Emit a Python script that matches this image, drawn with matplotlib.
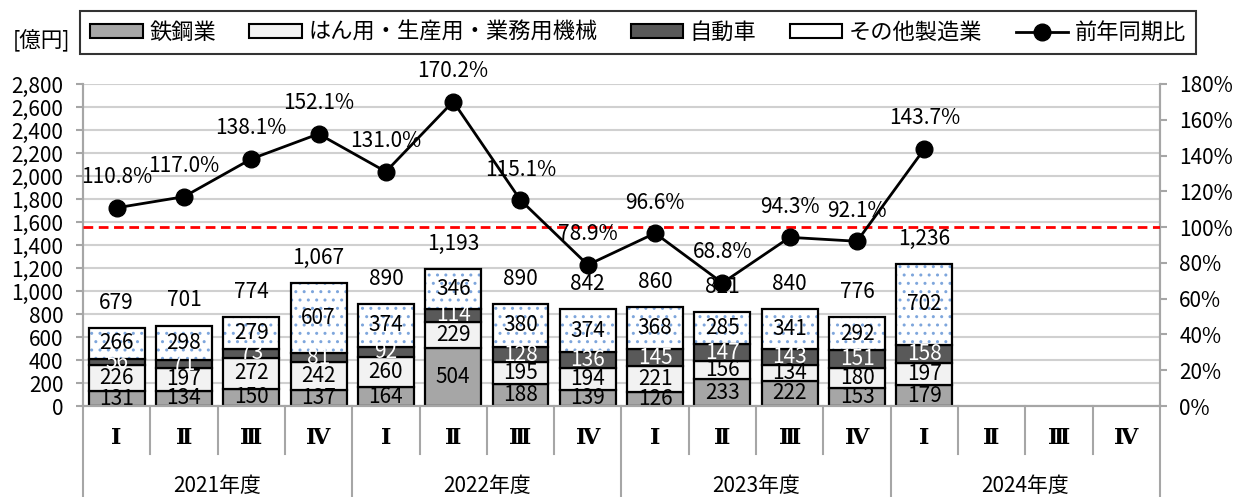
import matplotlib
matplotlib.use("Agg")
import matplotlib.pyplot as plt
import matplotlib.transforms as mtransforms
from matplotlib.patches import Patch
from matplotlib.lines import Line2D
import numpy as np

plt.rcParams['font.family'] = ['Noto Sans CJK JP', 'DejaVu Sans']

# data (億円)
quarters = ['Ⅰ', 'Ⅱ', 'Ⅲ', 'Ⅳ'] * 4
years = ['2021年度', '2022年度', '2023年度', '2024年度']
steel = [131, 134, 150, 137, 164, 504, 188, 139, 126, 233, 222, 153, 179]
machinery = [226, 197, 272, 242, 260, 229, 195, 194, 221, 156, 134, 180, 197]
auto = [56, 71, 73, 81, 92, 114, 128, 136, 145, 147, 143, 151, 158]
other = [266, 298, 279, 607, 374, 346, 380, 374, 368, 285, 341, 292, 702]
totals = [679, 701, 774, 1067, 890, 1193, 890, 842, 860, 821, 840, 776, 1236]
yoy = [110.8, 117.0, 138.1, 152.1, 131.0, 170.2, 115.1, 78.9, 96.6, 68.8, 94.3, 92.1, 143.7]

names = ['鉄鋼業', 'はん用・生産用・業務用機械', '自動車', 'その他製造業', '前年同期比']

fig = plt.figure(figsize=(12.35, 4.97), dpi=100)
ax = fig.add_axes([0.0672, 0.183, 0.872, 0.648])
ax2 = ax.twinx()

n = len(steel)
x = np.arange(n)
w = 0.83
fs = 15

c_steel = '#A6A6A6'
c_mach = '#F2F2F2'
c_auto = '#595959'
c_dot = '#7EA6DC'
plt.rcParams['hatch.linewidth'] = 1.0

b0 = np.zeros(n)
ax.bar(x, steel, w, bottom=b0, color=c_steel, edgecolor='black', lw=1.6, zorder=2)
b1 = b0 + np.array(steel)
ax.bar(x, machinery, w, bottom=b1, color=c_mach, edgecolor='black', lw=1.6, zorder=2)
b2 = b1 + np.array(machinery)
ax.bar(x, auto, w, bottom=b2, color=c_auto, edgecolor='black', lw=1.6, zorder=2)
b3 = b2 + np.array(auto)
ax.bar(x, other, w, bottom=b3, color='white', edgecolor=c_dot, hatch='..', lw=0, zorder=2)
ax.bar(x, other, w, bottom=b3, color='none', edgecolor='black', lw=1.6, zorder=2)

for vals, bot, col in [(steel, b0, 'black'), (machinery, b1, 'black'),
                       (auto, b2, 'white'), (other, b3, 'black')]:
    for i in range(n):
        ax.text(x[i], bot[i] + vals[i] / 2, str(vals[i]), ha='center', va='center',
                fontsize=fs, color=col, zorder=4)

for i in range(n):
    ax.annotate(f'{totals[i]:,}', (x[i], totals[i]), xytext=(0, 18), textcoords='offset points',
                ha='center', va='center', fontsize=fs, zorder=4)

ax.set_xlim(-0.5, 15.5)
ax.set_ylim(0, 2800)
ax.set_yticks(range(0, 2801, 200))
ax.set_yticklabels([f'{v:,}' for v in range(0, 2801, 200)], fontsize=fs)
ax.grid(axis='y', color='#D0D0D0', lw=1.5, zorder=0)
ax.set_axisbelow(True)
ax.set_xticks([])
ax.spines['top'].set_visible(False)
ax2.spines['top'].set_visible(False)
for s in ['left', 'bottom', 'right']:
    for a in (ax, ax2):
        a.spines[s].set_color('#A6A6A6')
        a.spines[s].set_linewidth(1.5)
ax.tick_params(axis='y', color='#A6A6A6', width=1.5, length=5, pad=9)

ax2.set_ylim(0, 180)
ax2.set_yticks(range(0, 181, 20))
ax2.set_yticklabels([f'{v}%' for v in range(0, 181, 20)], fontsize=fs)
ax2.tick_params(axis='y', color='#A6A6A6', width=1.5, length=5, pad=9)
ax2.axhline(100, color='#FF0000', lw=2, ls=(0, (3.5, 2)), zorder=3)
ax2.plot(x, yoy, color='black', lw=2, marker='o', markersize=12, zorder=5)
for i in range(n):
    ax2.annotate(f'{yoy[i]:.1f}%', (x[i], yoy[i]), xytext=(0, 22), textcoords='offset points',
                 ha='center', va='center', fontsize=fs, zorder=6)

# category axis below
trans = mtransforms.blended_transform_factory(ax.transData, ax.transAxes)
for i, q in enumerate(quarters):
    ax.text(i, -0.10, q, transform=trans, ha='center', va='center', fontsize=16,
            fontweight='bold', family=['DejaVu Serif', 'Noto Sans CJK JP'])
for i in range(17):
    y_end = -0.30 if i % 4 == 0 else -0.148
    ax.plot([i - 0.5, i - 0.5], [0, y_end], transform=trans, color='#A6A6A6',
            lw=1.5, clip_on=False)
for k, yl in enumerate(years):
    ax.text(4 * k + 1.5, -0.248, yl, transform=trans, ha='center', va='center', fontsize=fs)

fig.text(0.010, 0.918, '[億円]', fontsize=15.5, ha='left', va='center')

handles = [Patch(facecolor=c_steel, edgecolor='black', lw=1.5),
           Patch(facecolor=c_mach, edgecolor='black', lw=1.5),
           Patch(facecolor=c_auto, edgecolor='black', lw=1.5),
           Patch(facecolor='white', edgecolor='black', lw=1.5),
           Line2D([], [], color='black', lw=2, marker='o', markersize=12)]
leg = fig.legend(handles, names, loc='center', bbox_to_anchor=(0.5166, 0.9346), ncol=5,
                 fontsize=16, frameon=True, fancybox=False, edgecolor='black',
                 handlelength=2.35, handleheight=0.6, handletextpad=0.3, columnspacing=1.5,
                 borderpad=0.45)
leg.get_frame().set_linewidth(1.5)

fig.savefig('out.png', dpi=100)
